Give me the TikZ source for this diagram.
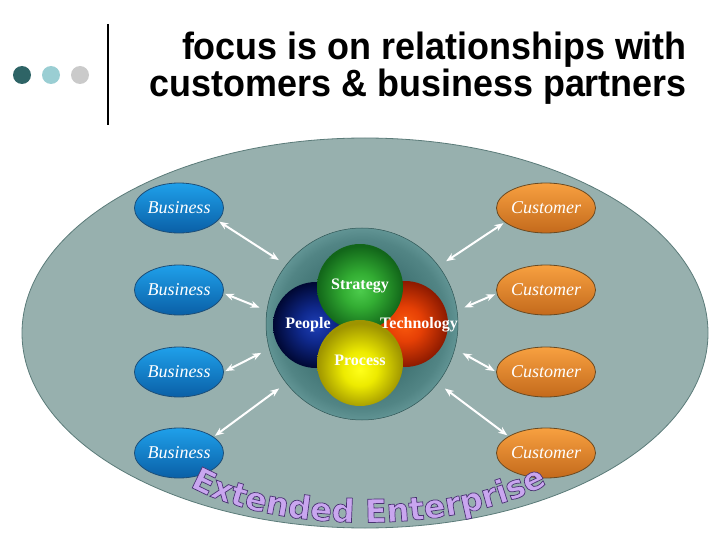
\documentclass[tikz,border=0pt]{standalone}
\usepackage{fontspec}
\setmainfont{Liberation Serif}
\newfontfamily\titlefont[FakeStretch=0.945]{Liberation Sans}
\newfontfamily\eefont{DejaVu Sans}
\usetikzlibrary{shapes.geometric,arrows.meta,decorations.text}
\definecolor{dotA}{HTML}{2E6466}
\definecolor{dotB}{HTML}{9ACED3}
\definecolor{dotC}{HTML}{CACACA}
\definecolor{bigfill}{HTML}{97B0AE}
\definecolor{bigdraw}{HTML}{5B7B79}
\definecolor{bizTop}{HTML}{1FA0EA}
\definecolor{bizBot}{HTML}{0A5FA6}
\definecolor{bizDraw}{HTML}{1E4F78}
\definecolor{cusTop}{HTML}{F7A040}
\definecolor{cusBot}{HTML}{C46A1C}
\definecolor{cusDraw}{HTML}{6A4A22}
\definecolor{eelav}{HTML}{C9A6EF}
\definecolor{coredraw}{HTML}{2F5555}
\pgfdeclareradialshading{coreshade}{\pgfpoint{0bp}{0bp}}{rgb(0bp)=(0.22,0.42,0.42); rgb(15bp)=(0.25,0.45,0.45); rgb(22bp)=(0.32,0.52,0.52); rgb(25bp)=(0.38,0.58,0.58); rgb(50bp)=(0.38,0.58,0.58)}
\pgfdeclareradialshading{sphblue}{\pgfpoint{0bp}{0bp}}{rgb(0bp)=(0.12,0.25,0.72); rgb(10bp)=(0.06,0.16,0.55); rgb(25bp)=(0.0,0.03,0.2); rgb(50bp)=(0.0,0.03,0.2)}
\pgfdeclareradialshading{sphred}{\pgfpoint{0bp}{0bp}}{rgb(0bp)=(0.98,0.35,0.05); rgb(10bp)=(0.9,0.25,0.02); rgb(25bp)=(0.55,0.1,0.0); rgb(50bp)=(0.55,0.1,0.0)}
\pgfdeclareradialshading{sphgreen}{\pgfpoint{0bp}{-2bp}}{rgb(0bp)=(0.3,0.8,0.3); rgb(10bp)=(0.2,0.68,0.2); rgb(25bp)=(0.07,0.4,0.1); rgb(50bp)=(0.07,0.4,0.1)}
\pgfdeclareradialshading{sphyellow}{\pgfpoint{0bp}{-4bp}}{rgb(0bp)=(1,1,0.1); rgb(10bp)=(0.93,0.92,0.0); rgb(25bp)=(0.62,0.58,0.0); rgb(50bp)=(0.62,0.58,0.0)}
\newcommand\eetext{\eefont\bfseries\fontsize{32}{32}\selectfont\color{eelav}\special{pdf:literal direct 2 Tr 0.7 w 0.29 0.2 0.45 RG}}
\begin{document}
\begin{tikzpicture}[x=1pt,y=-1pt,
  titletext/.style={anchor=base east, inner sep=0, font=\titlefont\bfseries\fontsize{38}{40}\selectfont},
  partner/.style={ellipse, minimum width=83pt, minimum height=50pt, inner sep=0, outer sep=0,
    text=white, font=\itshape\fontsize{18}{18}\selectfont, line width=0.8pt},
  biz/.style={partner, draw=bizDraw, top color=bizTop, bottom color=bizBot},
  cus/.style={partner, draw=cusDraw, top color=cusTop, bottom color=cusBot},
  sphere/.style={circle, minimum size=86pt, inner sep=0, outer sep=0},
  sphlabel/.style={text=white, font=\bfseries\fontsize{16}{16}\selectfont, inner sep=0},
  arr/.style={draw=white, line width=2pt, {Stealth[length=9pt,width=7pt]}-{Stealth[length=9pt,width=7pt]}}]
\useasboundingbox (0,0) rectangle (720,540);
% header
\fill[dotA] (22,75) circle[radius=9];
\fill[dotB] (51,75) circle[radius=9];
\fill[dotC] (80,75) circle[radius=9];
\draw[line width=2.5pt] (108,24) -- (108,125);
\node[titletext] (t1) at (687,60) {focus is on relationships with};
\node[titletext] (t2) at (687,97) {customers \& business partners};
% enterprise
\node[ellipse, draw=bigdraw, fill=bigfill, line width=0.8pt, minimum width=686pt, minimum height=390pt, inner sep=0] (ent) at (365,333) {};
\node[circle, draw=coredraw, line width=0.5pt, shading=coreshade, minimum size=192pt, inner sep=0, outer sep=0] (core) at (362,324) {};
% spheres
\node[sphere, shading=sphblue] (people) at (316,325) {};
\node[sphere, shading=sphred] (tech) at (405,324) {};
\node[sphere, shading=sphgreen] (strat) at (360,287) {};
\node[sphere, shading=sphyellow] (proc) at (360,363) {};
\node[sphlabel] (lstrat) at (360,286) {Strategy};
\node[sphlabel] (lpeople) at (308,325) {People};
\node[sphlabel] (ltech) at (419,325) {Technology};
\node[sphlabel] (lproc) at (360,360) {Process};
% partners
\node[biz] (b1) at (179,208) {Business};
\node[biz] (b2) at (179,290) {Business};
\node[biz] (b3) at (179,372) {Business};
\node[biz] (b4) at (179,453) {Business};
\node[cus] (c1) at (546,208) {Customer};
\node[cus] (c2) at (546,290) {Customer};
\node[cus] (c3) at (546,372) {Customer};
\node[cus] (c4) at (546,453) {Customer};
% arrows
\draw[arr, shorten <=2pt, shorten >=9pt] (b1.-18) -- (core.142);
\draw[arr, shorten <=2pt, shorten >=8pt] (b2.-4) -- (core.172);
\draw[arr, shorten <=2pt, shorten >=9pt] (b3.0) -- (core.195);
\draw[arr, shorten <=2pt, shorten >=9pt] (b4.25) -- (core.218);
\draw[arr, shorten <=2pt, shorten >=9pt] (c1.199) -- (core.37);
\draw[arr, shorten <=2pt, shorten >=8pt] (c2.184) -- (core.8);
\draw[arr, shorten <=2pt, shorten >=9pt] (c3.180) -- (core.-15);
\draw[arr, shorten <=2pt, shorten >=9pt] (c4.156) -- (core.-38);
% arced title
\coordinate (ees) at (184,483);
\coordinate (eea) at (270,536);
\coordinate (eeb) at (462,536);
\coordinate (eee) at (553,481);
\path[decorate, decoration={text along path, text align=center, text={|\eetext|Extended Enterprise}}]
  (ees) .. controls (eea) and (eeb) .. (eee);
\end{tikzpicture}
\end{document}
